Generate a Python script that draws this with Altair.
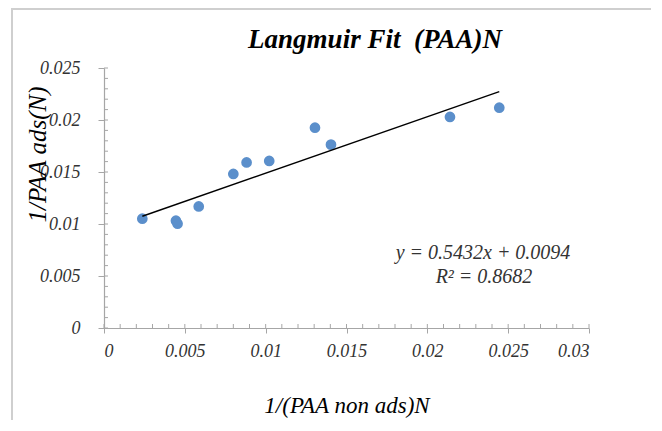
import altair as alt
import pandas as pd

# Data
x_vals = [0.00237, 0.00445, 0.00455, 0.00586, 0.00800, 0.00882, 0.01022, 0.01305, 0.01404, 0.02140, 0.02445]
y_vals = [0.01051, 0.01032, 0.01003, 0.01169, 0.01481, 0.01592, 0.01606, 0.01926, 0.01763, 0.02029, 0.02118]

x_ticks = [0, 0.005, 0.01, 0.015, 0.02, 0.025, 0.03]
y_ticks = [0, 0.005, 0.01, 0.015, 0.02, 0.025]
x_minor = [round(i * 0.001, 3) for i in range(31)]
y_minor = [round(i * 0.001, 3) for i in range(26)]

title_text = "Langmuir Fit \u00a0(PAA)N"
x_title = "1/(PAA non ads)N"
y_title = "1/PAA ads(N)"
eq_text = "y = 0.5432x + 0.0094"
r2_text = "R\u00b2 = 0.8682"

W, H = 485, 260
FONT = "'Liberation Serif', 'DejaVu Serif', serif"
AXIS_GRAY = "#A6A6A6"
LABEL_COLOR = "#333333"

df = pd.DataFrame({"x": x_vals, "y": y_vals})
xscale = alt.Scale(domain=[0, 0.03], nice=False, zero=True)
yscale = alt.Scale(domain=[0, 0.025], nice=False, zero=True)

x_axis = alt.Axis(
    values=x_ticks, format="~g", title=x_title, grid=False,
    tickSize=5, labelPadding=9, titleY=77, titleBaseline="middle",
    labelFont=FONT, labelFontStyle="italic", labelFontSize=18, labelColor=LABEL_COLOR,
    titleFont=FONT, titleFontStyle="italic", titleFontWeight="normal",
    titleFontSize=23, titleColor="#000000",
    domainColor=AXIS_GRAY, tickColor=AXIS_GRAY, domainWidth=1.2, tickWidth=1,
)
y_axis = alt.Axis(
    values=y_ticks, format="~g", title=y_title, grid=False,
    tickSize=6, labelPadding=18, titleX=-67, titleY=86,
    titleAlign="center", titleBaseline="middle", titleAngle=270,
    labelFont=FONT, labelFontStyle="italic", labelFontSize=18, labelColor=LABEL_COLOR,
    titleFont=FONT, titleFontStyle="italic", titleFontWeight="normal",
    titleFontSize=25, titleColor="#000000",
    domainColor=AXIS_GRAY, tickColor=AXIS_GRAY, domainWidth=1.2, tickWidth=1,
)

X = alt.X("x:Q", scale=xscale, axis=x_axis)
Y = alt.Y("y:Q", scale=yscale, axis=y_axis)

base = alt.Chart(df)

points = base.mark_circle(size=115, color="#5B8FCB", opacity=1).encode(x=X, y=Y)

trend = base.transform_regression("x", "y").mark_line(
    color="#000000", strokeWidth=1.4
).encode(x=X, y=Y)

xminor = alt.Chart(pd.DataFrame({"x": x_minor})).mark_rule(color=AXIS_GRAY, strokeWidth=1).encode(
    x=X,
    y=alt.value(H - 4),
    y2=alt.value(H),
)
yminor = alt.Chart(pd.DataFrame({"y": y_minor})).mark_rule(color=AXIS_GRAY, strokeWidth=1).encode(
    y=Y,
    x=alt.value(0),
    x2=alt.value(4),
)

def text_layer(txt, xpix, ypix, size=17, weight="normal", color=LABEL_COLOR):
    return alt.Chart(pd.DataFrame({"t": [txt]})).mark_text(
        font=FONT, fontSize=size, fontStyle="italic", fontWeight=weight, color=color,
        align="center", baseline="middle",
    ).encode(text="t:N", x=alt.value(xpix), y=alt.value(ypix))

eq = text_layer(eq_text, 379, 185, size=20)
r2 = text_layer(r2_text, 380, 209, size=20)
title = text_layer(title_text, 271, -28, size=27, weight="bold", color="#000000")

frame_left = alt.Chart(pd.DataFrame({"a": [0]})).mark_rule(color="#CFCFCF", strokeWidth=2).encode(
    x=alt.value(-92), y=alt.value(-60), y2=alt.value(H + 110)
)
frame_top = alt.Chart(pd.DataFrame({"a": [0]})).mark_rule(color="#CFCFCF", strokeWidth=2).encode(
    y=alt.value(-59), x=alt.value(-93), x2=alt.value(W + 80)
)

chart = alt.layer(points, frame_left, frame_top, xminor, yminor, trend, eq, r2, title).properties(
    width=W, height=H,
    autosize=alt.AutoSizeParams(type="none"),
    padding={"left": 96, "top": 60, "right": 62, "bottom": 92},
).configure_view(stroke="transparent")

chart.save("out.html", embed_options={"renderer": "svg", "actions": False})
